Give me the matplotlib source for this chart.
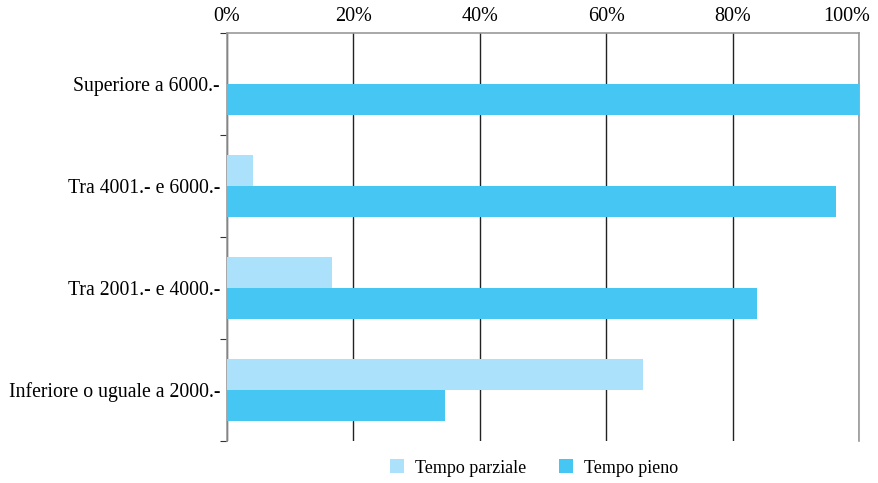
import matplotlib.pyplot as plt
import matplotlib.transforms as mtransforms
from matplotlib.ticker import FixedLocator, PercentFormatter
import numpy as np

categories = ["Superiore a 6000.-", "Tra 4001.- e 6000.-", "Tra 2001.- e 4000.-",
              "Inferiore o uguale a 2000.-"]
parziale = [0, 4.1, 16.6, 65.8]
pieno = [100, 96.4, 83.9, 34.5]
xticks = [0, 20, 40, 60, 80, 100]

plt.rcParams['font.family'] = ['Liberation Serif', 'DejaVu Serif']

fig = plt.figure(figsize=(8.79, 4.83), dpi=100)
ax = fig.add_axes([0.2583, 0.087, 0.7190, 0.8447])

y = np.arange(len(categories))
h = 0.3
ax.barh(y - h / 2, parziale, height=h, color='#abe1fa', label='Tempo parziale', zorder=3)
ax.barh(y + h / 2, pieno, height=h, color='#45c6f3', label='Tempo pieno', zorder=3)

ax.set_ylim(len(categories) - 0.5, -0.5)
ax.set_xlim(0, 100)
ax.set_yticks(y)
ax.set_yticklabels(categories, fontsize=14.2)
ax.yaxis.set_minor_locator(FixedLocator(np.arange(-0.5, len(categories), 1)))
ax.tick_params(axis='y', which='major', length=0, pad=5)
ax.tick_params(axis='y', which='minor', length=5, color='#333333', width=0.8)

ax.xaxis.tick_top()
ax.set_xticks(xticks)
ax.xaxis.set_major_formatter(PercentFormatter(decimals=0))
ax.tick_params(axis='x', length=0, labelsize=14.5, pad=5)
ax.grid(axis='x', color='#222222', linewidth=1.0, zorder=0)

# last label sits a bit left of its gridline so it fits
lbl = ax.get_xticklabels()[-1]
lbl.set_transform(lbl.get_transform() + mtransforms.ScaledTranslation(-12 / 100, 0, fig.dpi_scale_trans))

ax.spines['bottom'].set_visible(False)
for s in ['top', 'left', 'right']:
    ax.spines[s].set_color('#999999')
    ax.spines[s].set_linewidth(1.2)

fig.legend(loc='center', bbox_to_anchor=(0.6075, 0.031), ncol=2, frameon=False,
           fontsize=13, handlelength=0.8, handleheight=0.8, columnspacing=1.8,
           handletextpad=0.6)

fig.savefig('out.png', dpi=100)
